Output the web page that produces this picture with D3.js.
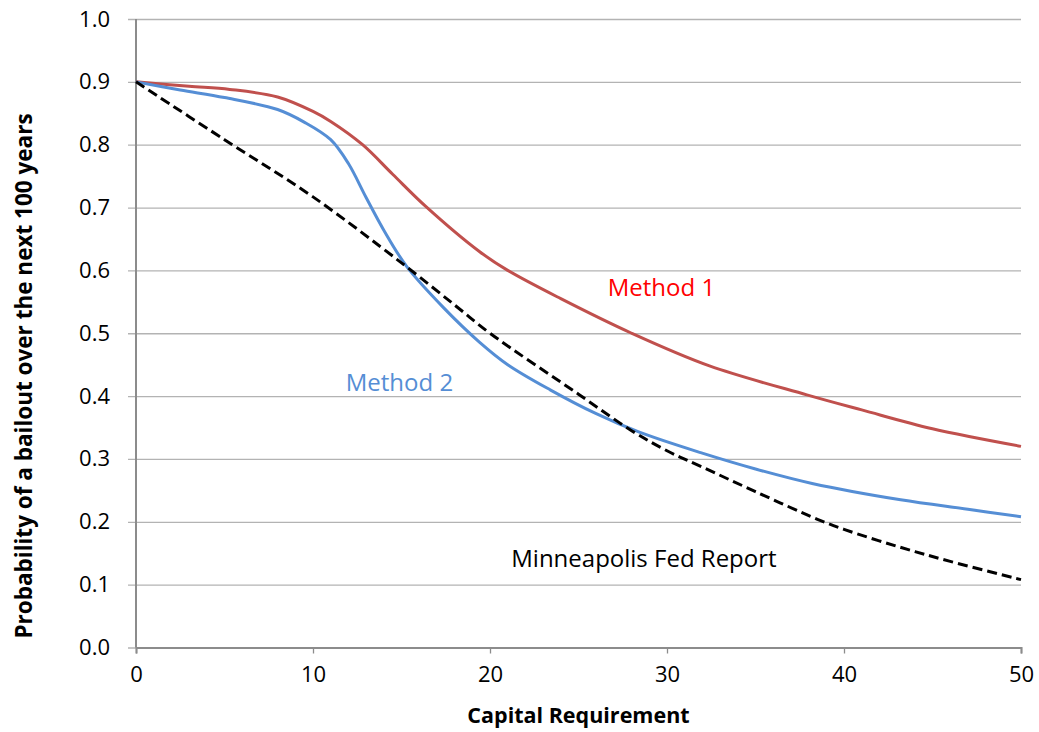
<!DOCTYPE html>
<html>
<head>
<meta charset="utf-8">
<script src="https://cdn.jsdelivr.net/npm/d3@7"></script>
<style>
  html, body { margin: 0; padding: 0; background: #fff; }
  svg { display: block; }
  text { font-family: "Open Sans", "Liberation Sans", sans-serif; }
</style>
</head>
<body>
<svg id="chart" width="1039" height="732"></svg>
<script>
// ---- Data ----
const xTicks = [0, 10, 20, 30, 40, 50];
const yTicks = [0, 0.1, 0.2, 0.3, 0.4, 0.5, 0.6, 0.7, 0.8, 0.9, 1.0];

const method1X = [0, 3, 5.3, 8, 10, 11, 12.8, 14.5, 16.4, 19.4, 21, 24, 28, 32.4, 37.9, 41, 45, 50];
const method1Y = [0.900, 0.893, 0.888, 0.876, 0.853, 0.837, 0.800, 0.753, 0.701, 0.630, 0.600, 0.555, 0.500, 0.448, 0.402, 0.378, 0.348, 0.320];

const method2X = [0, 2.5, 5, 8, 9.5, 11, 12, 13, 14, 15.3, 17.4, 19.4, 21, 23.4, 26, 28.4, 31.9, 35, 38.2, 43.2, 47, 50];
const method2Y = [0.900, 0.887, 0.875, 0.856, 0.836, 0.808, 0.770, 0.716, 0.664, 0.606, 0.540, 0.486, 0.450, 0.410, 0.372, 0.343, 0.310, 0.284, 0.261, 0.235, 0.220, 0.208];

const fedX = [0, 5, 10, 15, 18, 20, 25, 28, 30, 32, 35, 38.5, 40, 43, 46, 50];
const fedY = [0.900, 0.808, 0.717, 0.612, 0.545, 0.500, 0.403, 0.345, 0.313, 0.287, 0.248, 0.204, 0.188, 0.161, 0.137, 0.108];

const xTitle = "Capital Requirement";
const yTitle = "Probability of a bailout over the next 100 years";
const labels = [
  { text: "Method 1", x: 26.65, y: 0.559, color: "#FF0000" },
  { text: "Method 2", x: 11.85, y: 0.408, color: "#558ED5" },
  { text: "Minneapolis Fed Report", x: 21.2, y: 0.128, color: "#000000" }
];

// ---- Layout ----
const W = 1039, H = 732;
const margin = { left: 136, right: 18, top: 19, bottom: 84.5 };
const svg = d3.select("#chart");

const x = d3.scaleLinear().domain([0, 50]).range([margin.left, W - margin.right]);
const y = d3.scaleLinear().domain([0, 1]).range([H - margin.bottom, margin.top]);

// Gridlines + y axis
const yAxis = d3.axisLeft(y).tickValues(yTicks).tickFormat(d3.format(".1f"))
  .tickSize(-(W - margin.right - margin.left)).tickPadding(26);
const gy = svg.append("g").attr("transform", `translate(${margin.left},0)`).call(yAxis);
gy.select(".domain").remove();
gy.selectAll(".tick line").attr("stroke", "#B3B3B3").attr("stroke-width", 1.3).attr("x1", -8);
gy.selectAll(".tick text").attr("font-size", 22).attr("fill", "#000")
  .style("font-family", "'Open Sans', sans-serif");

// x axis
const xAxis = d3.axisBottom(x).tickValues(xTicks).tickFormat(d3.format("d")).tickSize(6).tickPadding(13);
const gx = svg.append("g").attr("transform", `translate(0,${y(0)})`).call(xAxis);
gx.select(".domain").attr("stroke", "#8C8C8C").attr("stroke-width", 2);
gx.selectAll(".tick line").attr("stroke", "#8C8C8C").attr("stroke-width", 1.3);
gx.selectAll(".tick text").attr("font-size", 22).attr("fill", "#000")
  .style("font-family", "'Open Sans', sans-serif");

// y axis line
svg.append("line")
  .attr("x1", x(0)).attr("x2", x(0)).attr("y1", y(1)).attr("y2", y(0))
  .attr("stroke", "#8C8C8C").attr("stroke-width", 2);

// Lines
const line = d3.line().x(d => x(d[0])).y(d => y(d[1])).curve(d3.curveCatmullRom.alpha(0.5));
const zip = (a, b) => a.map((v, i) => [v, b[i]]);

svg.append("path").datum(zip(method1X, method1Y)).attr("d", line)
  .attr("fill", "none").attr("stroke", "#C0504D").attr("stroke-width", 3);
svg.append("path").datum(zip(method2X, method2Y)).attr("d", line)
  .attr("fill", "none").attr("stroke", "#558ED5").attr("stroke-width", 3);
svg.append("path").datum(zip(fedX, fedY)).attr("d", line)
  .attr("fill", "none").attr("stroke", "#000").attr("stroke-width", 3)
  .attr("stroke-dasharray", "10,5");

// Labels
svg.selectAll("text.lbl").data(labels).enter().append("text")
  .attr("class", "lbl")
  .attr("x", d => x(d.x)).attr("y", d => y(d.y))
  .attr("fill", d => d.color).attr("font-size", 24)
  .text(d => d.text);

// Axis titles
svg.append("text")
  .attr("x", 578.5).attr("y", 723)
  .attr("text-anchor", "middle").attr("font-size", 21.5).attr("font-weight", "bold")
  .text(xTitle);
svg.append("text")
  .attr("transform", `translate(32,376) rotate(-90)`)
  .attr("text-anchor", "middle").attr("font-size", 22.5).attr("font-weight", "bold")
  .text(yTitle);
</script>
</body>
</html>
